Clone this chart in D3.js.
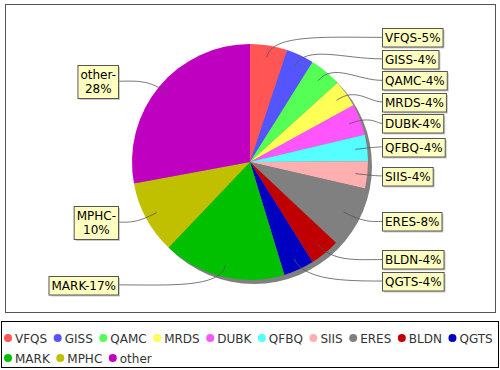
<!DOCTYPE html>
<html><head><meta charset="utf-8">
<script src="https://cdn.jsdelivr.net/npm/d3@7"></script>
<style>body{margin:0;background:#fff}svg{display:block}text{font-family:"DejaVu Sans",sans-serif}</style>
</head><body>
<svg id="c" width="500" height="370"></svg>
<script>
const categories = ["VFQS","GISS","QAMC","MRDS","DUBK","QFBQ","SIIS","ERES","BLDN","QGTS","MARK","MPHC","other"];
const values = [5.1,3.8,4.4,3.7,4.3,3.6,3.7,8.4,4.1,4.2,16.8,10.0,27.9];
const colors = ["#FF5555","#5555FF","#55FF55","#FFFF55","#FF55FF","#55FFFF","#FFAFAF","#808080","#C00000","#0000C0","#00C000","#C0C000","#C000C0"];
const wrappedLabels = ["MPHC","other"];

const svg = d3.select("#c");
const cx = 250, cy = 162, r = 118;
const total = d3.sum(values);
const data = categories.map((c,i)=>({name:c, value:values[i], color:colors[i], pct:Math.round(values[i]/total*100)}));

// plot frame
svg.append("rect").attr("x",5.5).attr("y",4.5).attr("width",490).attr("height",308)
  .attr("fill","#fff").attr("stroke","#555").attr("stroke-width",1);

const pie = d3.pie().value(d=>d.value).sort(null);
const arcs = pie(data);
const arc = d3.arc().innerRadius(0).outerRadius(r);

const g = svg.append("g");
g.append("circle").attr("cx",cx+4).attr("cy",cy+4).attr("r",r).attr("fill","#808080");
g.append("g").attr("transform",`translate(${cx},${cy})`)
  .selectAll("path").data(arcs).join("path")
  .attr("d",arc).attr("fill",d=>d.data.color);

// labels
const R = r*1.07;
const items = arcs.map(a=>{
  const mid = (a.startAngle+a.endAngle)/2;
  const right = Math.sin(mid) >= 0;
  const txt = a.data.name + "-" + a.data.pct + "%";
  const lines = wrappedLabels.includes(a.data.name) ? [a.data.name+"-", a.data.pct+"%"] : [txt];
  return {a, mid, right, lines, natY: cy - Math.cos(mid)*R};
});

const lg = svg.append("g");
const lineH = 14.5;
items.forEach(it=>{
  it.g = lg.append("g");
  it.texts = it.lines.map(l=> it.g.append("text").attr("font-size",12).attr("fill","#000").text(l));
  it.w = d3.max(it.texts, t=>t.node().getComputedTextLength()) + 5;
  it.h = it.lines.length*lineH + 4;
});

function resolve(list){
  list.sort((p,q)=>p.natY-q.natY);
  for(let i=0;i<list.length;i++){
    let y = list[i].natY;
    if(i>0){ const p=list[i-1]; y = Math.max(y, p.y + (p.h+list[i].h)/2 + 3); }
    list[i].y = y;
  }
}
resolve(items.filter(d=>d.right));
resolve(items.filter(d=>!d.right));

const linkG = svg.insert("g", () => lg.node());
items.forEach(it=>{
  const bx = it.right ? cx + r + 14 : cx - r - 14 - it.w;
  const by = Math.round(it.y - it.h/2);
  it.g.insert("rect", "text").attr("x",bx+2).attr("y",by+2).attr("width",it.w).attr("height",it.h)
    .attr("fill","rgba(151,151,151,0.5)");
  it.g.insert("rect", "text").attr("x",bx+0.5).attr("y",by+0.5).attr("width",it.w).attr("height",it.h)
    .attr("fill","#FFFFC0").attr("stroke","#555").attr("stroke-width",1);
  it.texts.forEach((t,i)=>{
    t.attr("text-anchor","middle").attr("x",bx+it.w/2+0.5)
     .attr("y", by + 2 + lineH*(i+1) - 3);
  });
  const lx = cx + Math.sin(it.mid)*r*0.9, ly = cy - Math.cos(it.mid)*r*0.9;
  const ex = cx + Math.sin(it.mid)*r*1.1, ey = cy - Math.cos(it.mid)*r*1.1;
  const tx = it.right ? bx : bx + it.w, ty = it.y;
  const c2x = (ex+tx)/2;
  linkG.append("path").attr("d",`M${lx},${ly}C${ex},${ey} ${c2x},${ty} ${tx},${ty}`)
    .attr("fill","none").attr("stroke","#555").attr("stroke-width",0.8);
});

// legend
svg.append("rect").attr("x",1.5).attr("y",321.5).attr("width",497).attr("height",46)
  .attr("fill","#fff").attr("stroke","#000").attr("stroke-width",1);
const leg = svg.append("g");
let x = 4, row = 0;
data.forEach(d=>{
  const t = leg.append("text").attr("font-size",12).attr("fill","#333").text(d.name);
  const tw = t.node().getComputedTextLength();
  if (x + 11 + tw > 497) { x = 4; row++; }
  const yy = 338 + row*20;
  leg.append("circle").attr("cx",x+4).attr("cy",yy).attr("r",4).attr("fill",d.color);
  t.attr("x",x+11).attr("y",yy+4.5);
  x += 11 + tw + 6.5;
});
</script>
</body></html>
